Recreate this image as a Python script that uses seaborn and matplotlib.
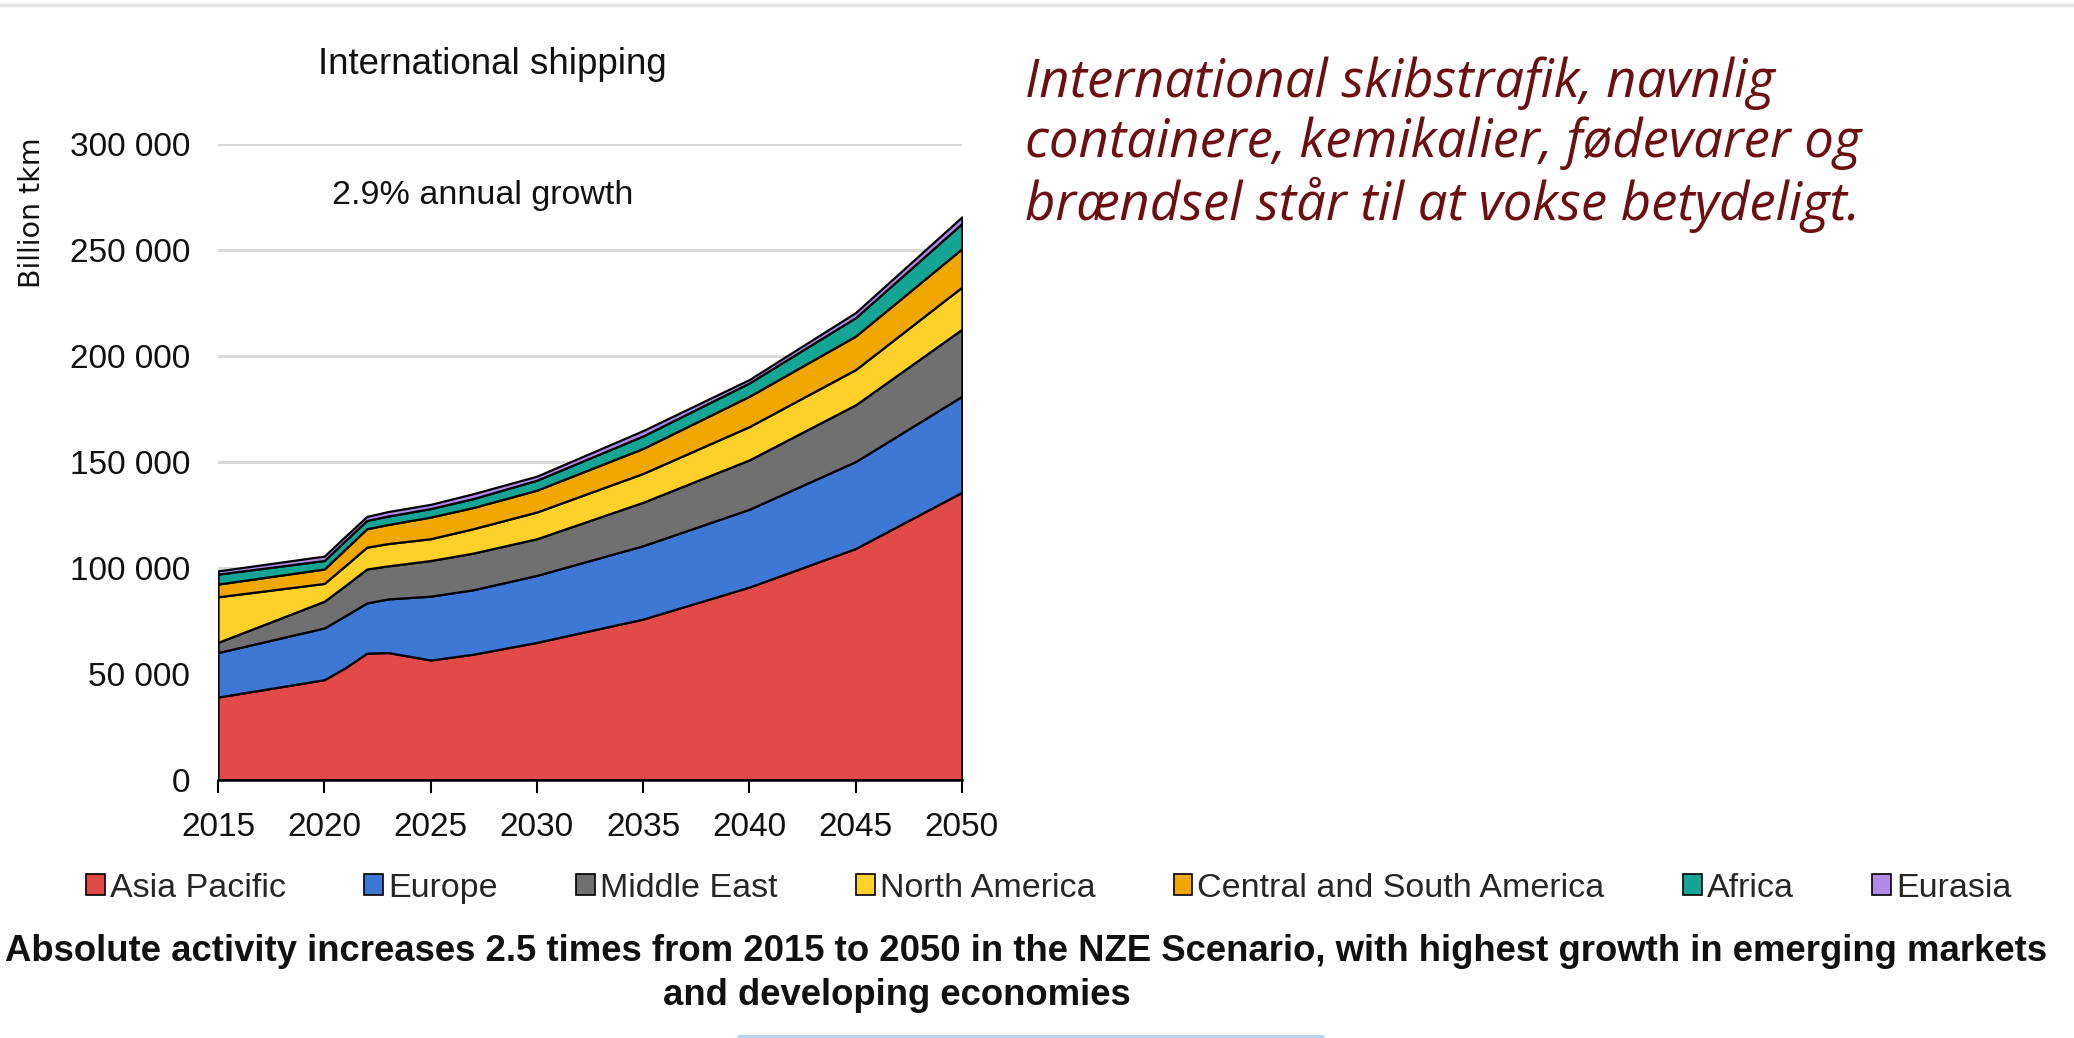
import matplotlib
matplotlib.use("Agg")
import matplotlib.pyplot as plt
from matplotlib.lines import Line2D
from matplotlib.patches import Patch
import seaborn as sns

# values, billion tkm
years = [2015, 2020, 2021, 2022, 2023, 2025, 2027, 2030, 2035, 2040, 2045, 2050]
asia_pacific = [39100, 47300, 53000, 59800, 60100, 56600, 59300, 64900, 75900, 91000, 109200, 135700]
europe = [21000, 24400, 24500, 23700, 25300, 30100, 30400, 31600, 34600, 36700, 41000, 45300]
middle_east = [4800, 12600, 14300, 16000, 15600, 16800, 17300, 17300, 20500, 23300, 26800, 31600]
north_america = [21500, 8400, 9400, 10300, 10500, 10300, 11500, 12600, 13600, 15700, 16600, 19900]
central_south_america = [6000, 6800, 7800, 8700, 9000, 10200, 10000, 10300, 11800, 14300, 15800, 18100]
africa = [4700, 4000, 4000, 3900, 4000, 4000, 4200, 4700, 5900, 6300, 8700, 11900]
eurasia = [1500, 2100, 2000, 1900, 2100, 2000, 2300, 1900, 2500, 1600, 2400, 3100]

regions = ["Asia Pacific", "Europe", "Middle East", "North America",
           "Central and South America", "Africa", "Eurasia"]
colors = ["#e24a47", "#3d78d4", "#707070", "#fed12a", "#f0a800", "#14a595", "#b18ae8"]
yticks = [0, 50000, 100000, 150000, 200000, 250000, 300000]
xticks = [2015, 2020, 2025, 2030, 2035, 2040, 2045, 2050]

sns.set_theme(style="white")
plt.rcParams["font.family"] = ["Liberation Sans", "DejaVu Sans"]

fig = plt.figure(figsize=(20.74, 10.38), dpi=100)
ax = fig.add_axes([0.1051, 0.2486, 0.3587, 0.6127])

ax.stackplot(years, asia_pacific, europe, middle_east, north_america,
             central_south_america, africa, eurasia,
             colors=colors, edgecolor="black", linewidth=1.6)

ax.set_xlim(2015, 2050)
ax.set_ylim(0, 300000)
ax.set_yticks(yticks)
ax.set_yticklabels([f"{v:,}".replace(",", " ") for v in yticks])
ax.set_xticks(xticks)
ax.yaxis.grid(True, color="#d9d9d9", linewidth=2.2)
ax.xaxis.grid(False)
ax.set_axisbelow(True)
sns.despine(ax=ax, left=True)
ax.spines["bottom"].set_color("black")
ax.spines["bottom"].set_linewidth(1.8)
ax.tick_params(axis="y", length=0, pad=20, labelsize=24, labelcolor="#111111")
ax.tick_params(axis="x", direction="out", length=9, width=1.5, color="black",
               pad=14, labelsize=24, labelcolor="#111111", bottom=True)

fig.text(0.2372, 0.9383, "International shipping", ha="center", va="center",
         fontsize=26.5, color="#111111")
fig.text(0.2329, 0.8112, "2.9% annual growth", ha="center", va="center",
         fontsize=24.5, color="#111111")
fig.text(0.0155, 0.7948, "Billion tkm", rotation=90, ha="center", va="center",
         fontsize=20.5, family=["DejaVu Sans"], color="#111111")

handles = [Patch(facecolor=c, edgecolor="black", linewidth=1.2) for c in colors]
fig.legend(handles, regions, ncol=7, loc="center", bbox_to_anchor=(0.5057, 0.1445),
           frameon=False, fontsize=24.5, handlelength=0.55, handleheight=0.55,
           handletextpad=0.15, columnspacing=2.3, borderpad=0)

# caption: the two lines are not centred on each other in the source
fig.text(0.4948, 0.0829,
         "Absolute activity increases 2.5 times from 2015 to 2050 in the NZE Scenario, "
         "with highest growth in emerging markets",
         ha="center", va="center", fontsize=26.3, fontweight="bold", color="#111111")
fig.text(0.4324, 0.0405, "and developing economies",
         ha="center", va="center", fontsize=26.3, fontweight="bold", color="#111111")

fig.text(0.4942, 0.946,
         "International skibstrafik, navnlig\ncontainere, kemikalier, fødevarer og\n"
         "brændsel står til at vokse betydeligt.",
         ha="left", va="top", fontsize=37.9, style="italic",
         family=["Open Sans", "DejaVu Sans"], color="#6d0f10", linespacing=1.165)

fig.add_artist(Line2D([0, 1], [0.995, 0.995], transform=fig.transFigure,
                      color="#e3e3e3", linewidth=2.5))
fig.add_artist(Line2D([0.356, 0.638], [0.002, 0.002], transform=fig.transFigure,
                      color="#b7d0f5", linewidth=2))

fig.savefig("out.png", dpi=100)
